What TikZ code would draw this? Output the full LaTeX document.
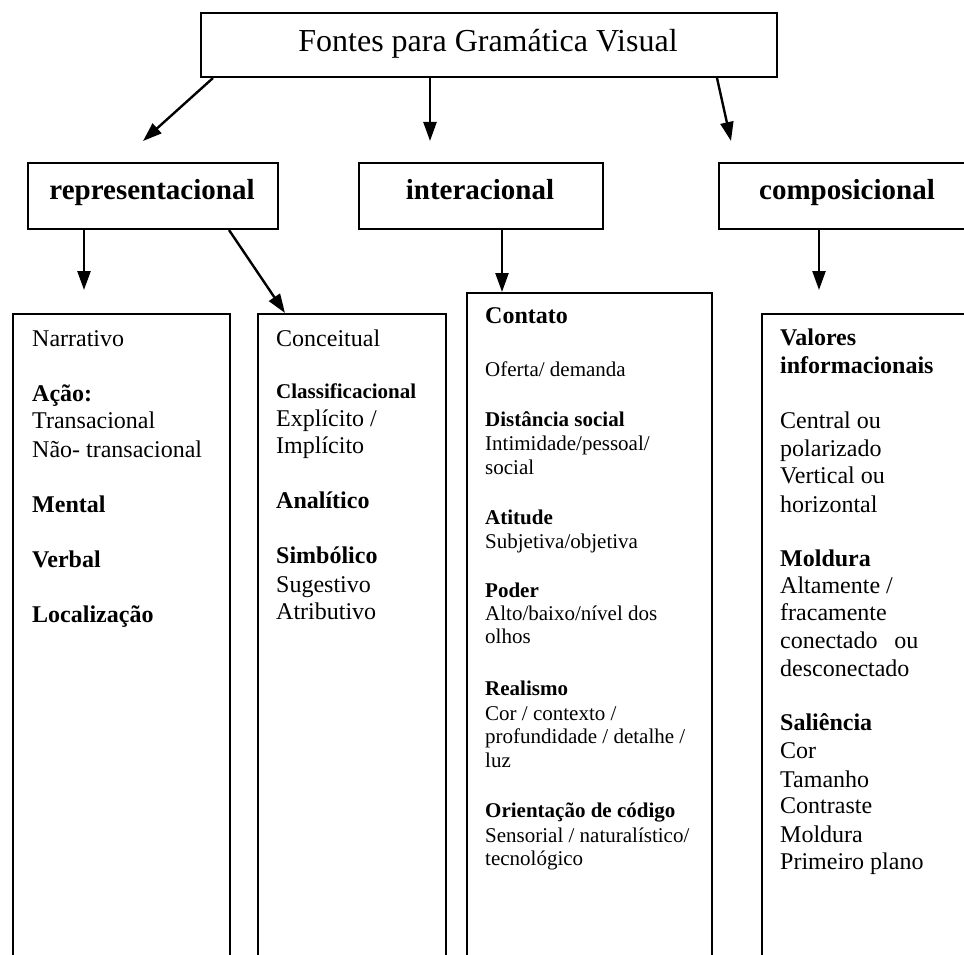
\documentclass[tikz,border=0pt]{standalone}
\usepackage{fontspec}
\setmainfont{Liberation Serif}
\usetikzlibrary{arrows.meta}
\newcommand{\fsz}[1]{\fontsize{#1}{#1}\selectfont}
\tikzset{
  box/.style={draw, line width=2pt, inner sep=0pt, anchor=north west},
  arr/.style={line width=2.4pt, -{Triangle[length=19pt,width=13pt]}},
  lbl/.style={anchor=base, inner sep=0pt},
  lnA/.style={anchor=base west, inner sep=0pt, font=\fsz{24}},
  lnB/.style={anchor=base west, inner sep=0pt, font=\fsz{21}},
}
\begin{document}
\begin{tikzpicture}[x=1pt,y=-1pt]
\clip (0,0) rectangle (964,955);
\fill[white] (0,0) rectangle (964,955);
% top box
\node[box, minimum width=576pt, minimum height=64pt] (top) at (200,12) {};
\node[lbl, font=\fsz{32}] (title) at (488,52) {Fontes para Gramática Visual};
% level two
\node[box, minimum width=250pt, minimum height=66pt] (rep) at (27,162) {};
\node[box, minimum width=244pt, minimum height=66pt] (int) at (358,162) {};
\node[box, minimum width=258pt, minimum height=66pt] (comp) at (718,162) {};
\node[lbl, font=\fsz{29}\bfseries] (repT) at (152,200) {representacional};
\node[lbl, font=\fsz{29}\bfseries] (intT) at (480,200) {interacional};
\node[lbl, font=\fsz{29}\bfseries] (compT) at (847,200) {composicional};
% lower boxes
\node[box, minimum width=217pt, minimum height=700pt] (narr) at (12,313) {};
\node[box, minimum width=188pt, minimum height=700pt] (conc) at (257,313) {};
\node[box, minimum width=245pt, minimum height=720pt] (cont) at (466,292) {};
\node[box, minimum width=240pt, minimum height=700pt] (val) at (761,313) {};
% arrow ends
\coordinate (e1) at (143,141);
\coordinate (e2) at (430,141);
\coordinate (e3) at (731,141);
\coordinate (e4) at (84,290);
\coordinate (e7) at (819,290);
\draw[arr] ([xshift=13pt]top.south west) -- (e1);
\draw[arr] ([xshift=230pt]top.south west) -- (e2);
\draw[arr] ([xshift=517pt]top.south west) -- (e3);
\draw[arr] ([xshift=57pt]rep.south west) -- (e4);
\draw[arr] ([xshift=202pt]rep.south west) -- ([xshift=28pt]conc.north west);
\draw[arr] ([xshift=144pt]int.south west) -- ([xshift=36pt]cont.north west);
\draw[arr] ([xshift=101pt]comp.south west) -- (e7);
% narrativo column
\node[lnA] (n1) at (32,346) {Narrativo};
\node[lnA] (n2) at (32,401) {\textbf{Ação:}};
\node[lnA] (n3) at (32,428) {Transacional};
\node[lnA] (n4) at (32,457) {Não- transacional};
\node[lnA] (n5) at (32,512) {\textbf{Mental}};
\node[lnA] (n6) at (32,567) {\textbf{Verbal}};
\node[lnA] (n7) at (32,622) {\textbf{Localização}};
% conceitual column
\node[lnA] (c1) at (276,346) {Conceitual};
\node[lnB] (c2) at (276,398) {\textbf{Classificacional}};
\node[lnA] (c3) at (276,426) {Explícito /};
\node[lnA] (c4) at (276,453) {Implícito};
\node[lnA] (c5) at (276,508) {\textbf{Analítico}};
\node[lnA] (c6) at (276,563) {\textbf{Simbólico}};
\node[lnA] (c7) at (276,592) {Sugestivo};
\node[lnA] (c8) at (276,619) {Atributivo};
% interacional column
\node[lnA] (i1) at (485,323) {\textbf{Contato}};
\node[lnB] (i2) at (485,376) {Oferta/ demanda};
\node[lnB] (i3) at (485,426) {\textbf{Distância social}};
\node[lnB] (i4) at (485,450) {Intimidade/pessoal/};
\node[lnB] (i5) at (485,474) {social};
\node[lnB] (i6) at (485,524) {\textbf{Atitude}};
\node[lnB] (i7) at (485,548) {Subjetiva/objetiva};
\node[lnB] (i8) at (485,597) {\textbf{Poder}};
\node[lnB] (i9) at (485,620) {Alto/baixo/nível dos};
\node[lnB] (i10) at (485,643) {olhos};
\node[lnB] (i11) at (485,695) {\textbf{Realismo}};
\node[lnB] (i12) at (485,720) {Cor / contexto /};
\node[lnB] (i13) at (485,743) {profundidade / detalhe /};
\node[lnB] (i14) at (485,767) {luz};
\node[lnB] (i15) at (485,817) {\textbf{Orientação de código}};
\node[lnB] (i16) at (485,842) {Sensorial / naturalístico/};
\node[lnB] (i17) at (485,865) {tecnológico};
% composicional column
\node[lnA] (v1) at (780,345) {\textbf{Valores}};
\node[lnA] (v2) at (780,373) {\textbf{informacionais}};
\node[lnA] (v3) at (780,428) {Central ou};
\node[lnA] (v4) at (780,456) {polarizado};
\node[lnA] (v5) at (780,483) {Vertical ou};
\node[lnA] (v6) at (780,512) {horizontal};
\node[lnA] (v7) at (780,566) {\textbf{Moldura}};
\node[lnA] (v8) at (780,593) {Altamente /};
\node[lnA] (v9) at (780,620) {fracamente};
\node[lnA] (v10) at (780,648) {conectado\hspace{0.7em}ou};
\node[lnA] (v11) at (780,676) {desconectado};
\node[lnA] (v12) at (780,730) {\textbf{Saliência}};
\node[lnA] (v13) at (780,758) {Cor};
\node[lnA] (v14) at (780,787) {Tamanho};
\node[lnA] (v15) at (780,813) {Contraste};
\node[lnA] (v16) at (780,842) {Moldura};
\node[lnA] (v17) at (780,869) {Primeiro plano};
\end{tikzpicture}
\end{document}
